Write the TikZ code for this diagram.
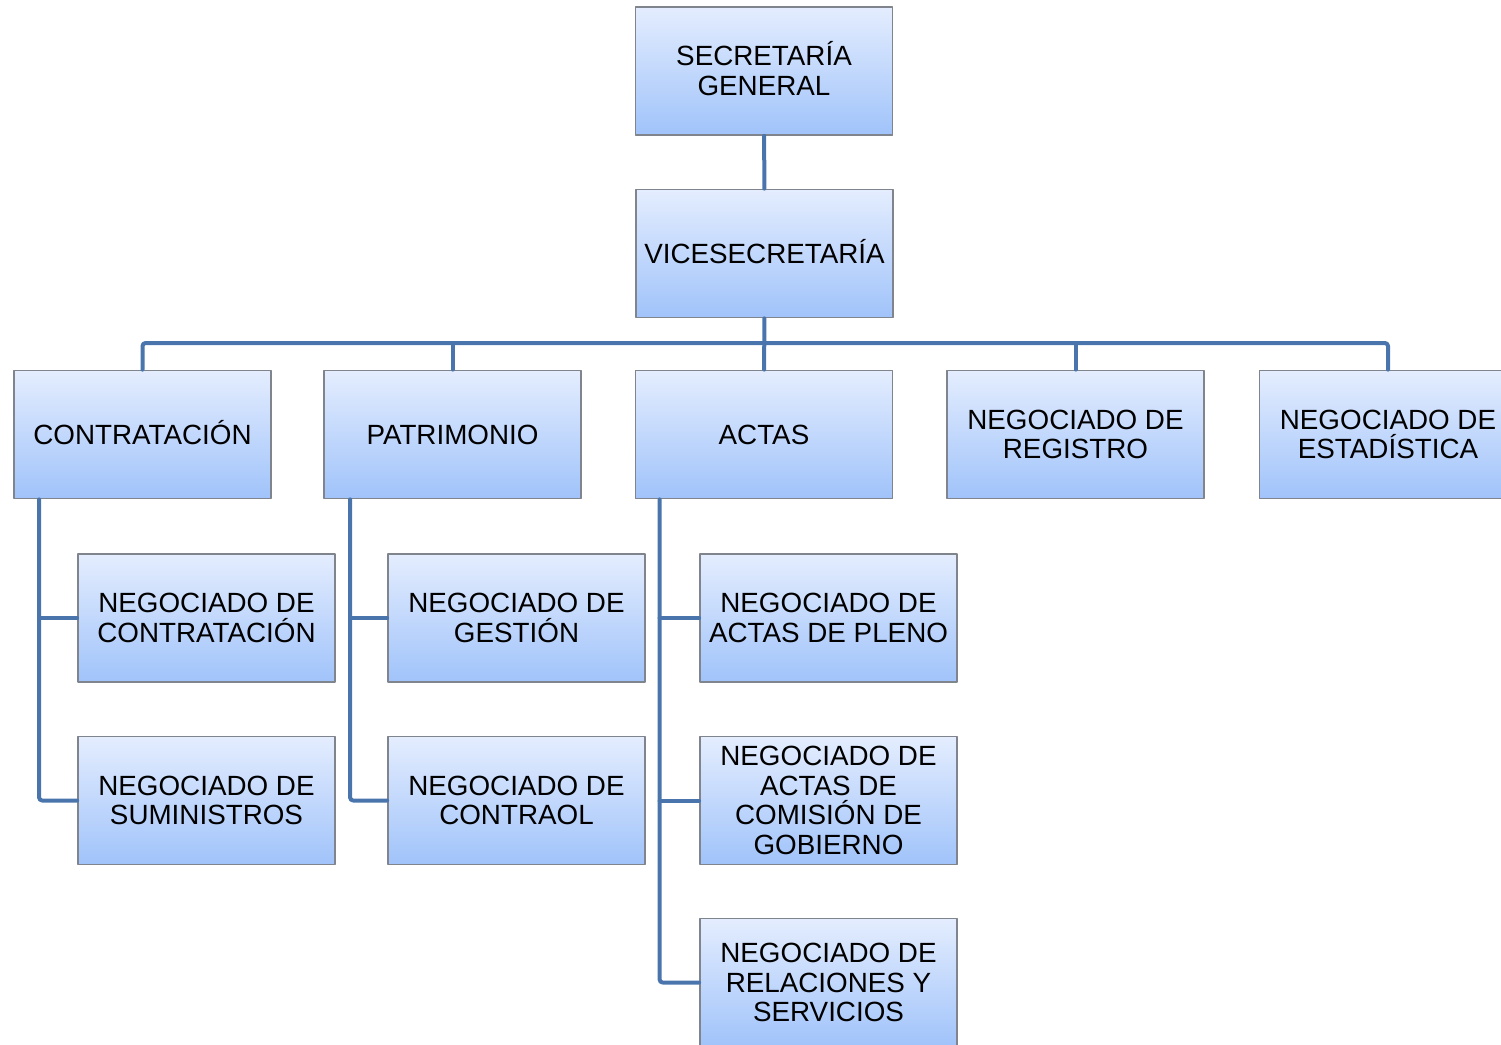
\documentclass[tikz,border=0pt]{standalone}
\usepackage{fontspec}
\setmainfont{Liberation Sans}
\definecolor{lineablue}{RGB}{74,117,172}
\definecolor{bordegray}{RGB}{128,132,140}
\definecolor{cajatop}{RGB}{228,237,254}
\definecolor{cajamid}{RGB}{208,224,253}
\definecolor{cajabot}{RGB}{160,195,250}
% texto con tilde en mayúscula, sin alterar la altura de la línea
\newcommand{\plano}[1]{\smash{#1}\vphantom{A}}
\begin{document}
\begin{tikzpicture}[x=0.5pt,y=-0.5pt,line cap=round,line join=round,
        unidad/.style={rectangle,draw=bordegray,line width=0.9pt,
            minimum width=128.5pt,minimum height=64pt,inner sep=2pt,
            top color=cajatop,middle color=cajamid,bottom color=cajabot,
            align=center,font=\fontsize{13.9}{14.75}\selectfont},
        enlace/.style={draw=lineablue,line width=2pt,rounded corners=1.5pt}]
        \useasboundingbox (0,0) rectangle (1501,1045);

        % Dirección
        \node[unidad] (secgen) at (764,71) {\plano{SECRETARÍA}\\GENERAL};
        \node[unidad] (vice) at (764.5,253.5) {\plano{VICESECRETARÍA}};

        % Secciones
        \node[unidad] (contra) at (142.5,434.5) {\plano{CONTRATACIÓN}};
        \node[unidad] (patri) at (452.5,434.5) {PATRIMONIO};
        \node[unidad] (actas) at (764,434.5) {ACTAS};
        \node[unidad] (regis) at (1075.5,434.5) {NEGOCIADO DE\\REGISTRO};
        \node[unidad] (estad) at (1388,434.5) {NEGOCIADO DE\\ESTADÍSTICA};

        % Negociados de cada sección
        \node[unidad] (ncontra) at (206.5,618) {NEGOCIADO DE\\CONTRATACIÓN};
        \node[unidad] (nsumin) at (206.5,800.5) {NEGOCIADO DE\\SUMINISTROS};
        \node[unidad] (ngest) at (516.5,618) {NEGOCIADO DE\\GESTIÓN};
        \node[unidad] (ncontr) at (516.5,800.5) {NEGOCIADO DE\\CONTRAOL};
        \node[unidad] (npleno) at (828.5,618) {NEGOCIADO DE\\ACTAS DE PLENO};
        \node[unidad] (ncomis) at (828.5,800.5) {NEGOCIADO DE\\ACTAS DE\\COMISIÓN DE\\GOBIERNO};
        \node[unidad] (nrelac) at (828.5,982.5) {NEGOCIADO DE\\RELACIONES Y\\SERVICIOS};

        % Líneas de dependencia
        \coordinate (bus) at (764,343);
        \draw[enlace] (secgen) -- (vice);
        \draw[enlace] (vice) -- (actas);
        \draw[enlace] (contra.north) |- (bus) -| (estad.north);
        \draw[enlace] (patri.north) -- (patri.north |- bus);
        \draw[enlace] (regis.north) -- (regis.north |- bus);

        % Ramas laterales
        \coordinate (ramac) at ([xshift=13pt]contra.south west);
        \coordinate (ramap) at ([xshift=13.5pt]patri.south west);
        \coordinate (ramaa) at ([xshift=12.5pt]actas.south west);
        \draw[enlace] (ramac) |- (nsumin.west);
        \draw[enlace] (ramac |- ncontra.west) -- (ncontra.west);
        \draw[enlace] (ramap) |- (ncontr.west);
        \draw[enlace] (ramap |- ngest.west) -- (ngest.west);
        \draw[enlace] (ramaa) |- (nrelac.west);
        \draw[enlace] (ramaa |- npleno.west) -- (npleno.west);
        \draw[enlace] (ramaa |- ncomis.west) -- (ncomis.west);
    \end{tikzpicture}
\end{document}
